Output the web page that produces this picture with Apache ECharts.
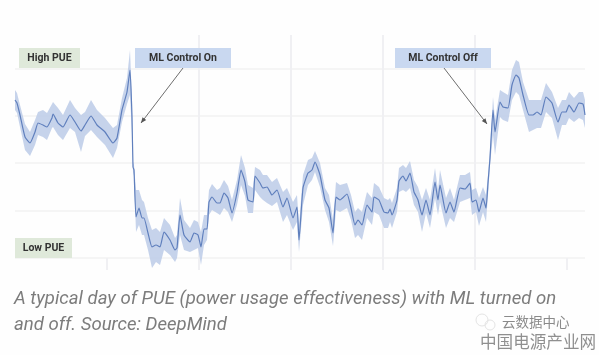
<!DOCTYPE html>
<html>
<head>
<meta charset="utf-8">
<style>
  html, body { margin: 0; padding: 0; background: #fefefe; }
  #chart { width: 599px; height: 355px; }
</style>
<script src="https://cdn.jsdelivr.net/npm/echarts@6/dist/echarts.min.js"></script>
</head>
<body>
<div id="chart"></div>
<script>
// time of day and PUE on a relative scale, the source has no axis numbers
const time = [0,2,5,10,15,20,23,28,32,37,38,43,48,55,60,66,70,76,82,90,98,102,107,112,115,117,118,119,
  121,124,127,129,133,137,141,145,149,155,160,162,165,169,175,179,183,186,189,192,194,197,202,205,209,213,217,222,
  226,230,233,238,240,245,248,252,257,262,268,272,278,282,284,288,293,297,300,305,310,314,318,321,325,332,336,
  340,343,347,352,357,359,364,369,373,375,377,382,384,388,391,395,399,403,407,411,415,420,423,425,431,435,439,445,450,455,457,461,464,468,471,473,475,
  478,480,485,488,493,497,501,504,508,514,518,522,526,531,537,543,547,551,554,559,564,568,570];
const pue = [158,155,143,121,115,126,135,133,131,140,144,135,131,143,136,127,133,142,133,126,115,120,148,166,188,141,91,88,
  41,50,40,40,25,11,13,11,26,18,8,10,43,23,16,25,23,11,29,29,56,61,55,55,65,60,45,65,
  88,76,58,56,82,75,70,71,63,68,51,60,40,51,18,70,85,88,96,83,58,50,25,61,58,64,50,
  33,38,33,53,46,61,58,46,45,49,43,58,77,82,77,85,66,58,43,58,43,76,58,73,45,56,46,70,69,75,56,58,46,60,50,75,100,
  148,126,156,151,150,173,183,180,163,143,143,146,143,161,155,136,146,146,153,146,155,154,143];
const bandLow = [148,145,131,108,102,113,123,121,118,130,131,123,118,130,126,106,122,128,121,113,100,110,136,154,163,123,86,82,
  26,33,23,23,8,-10,-4,-7,8,3,-4,0,23,8,6,8,10,-7,13,18,43,48,45,43,50,46,36,53,
  73,62,45,45,68,61,58,55,52,56,36,43,28,36,6,53,73,78,86,71,48,36,12,48,46,50,38,
  20,23,18,40,33,46,43,30,30,36,30,46,66,68,66,70,53,46,26,45,30,60,43,56,30,40,36,56,58,60,43,46,32,46,36,63,93,
  123,103,141,138,136,158,166,163,148,126,128,130,130,146,140,118,133,133,140,136,140,138,130];
const bandHigh = [168,165,153,134,126,138,146,148,145,154,156,150,143,158,150,143,146,158,148,140,130,133,160,180,208,158,96,93,
  68,68,58,56,40,28,30,26,40,33,20,23,60,38,30,38,36,26,43,43,68,74,68,70,78,72,58,78,
  103,90,73,70,91,88,83,83,76,80,66,70,56,63,33,83,98,100,107,95,70,63,38,76,73,75,63,
  46,50,46,66,60,75,71,60,58,60,55,70,90,93,90,97,78,71,58,70,58,90,68,88,60,70,58,83,83,86,68,70,60,71,63,83,108,
  161,138,168,166,163,188,198,196,176,158,158,158,158,175,166,150,158,158,166,160,166,166,158];

const captionLines = ['A typical day of PUE (power usage effectiveness) with ML turned on', 'and off. Source: DeepMind'];

const gridTicks = [92, 184, 276, 368, 460, 552];
const chart = echarts.init(document.getElementById('chart'));

const toPairs = (vals) => vals.map((v, i) => [time[i], v]);

// label box with text on top
const labelBox = (x, y, w, h, fill, text) => [
  { type: 'rect', z: 10, shape: { x, y, width: w, height: h }, style: { fill } },
  { type: 'text', z: 11, style: { x: x + w / 2, y: y + h / 2, text, align: 'center', verticalAlign: 'middle',
      font: 'bold 10.5px Roboto', fill: '#333' } }
];

// thin arrow with a small head
const arrow = (x1, y1, x2, y2) => {
  const a = Math.atan2(y2 - y1, x2 - x1), s = 6;
  return [
    { type: 'line', z: 9, shape: { x1, y1, x2, y2 }, style: { stroke: '#6e6e6e', lineWidth: 1 } },
    { type: 'polygon', z: 9, shape: { points: [[x2, y2],
        [x2 - s * Math.cos(a - 0.4), y2 - s * Math.sin(a - 0.4)],
        [x2 - s * Math.cos(a + 0.4), y2 - s * Math.sin(a + 0.4)]] }, style: { fill: '#555' } }
  ];
};

// the band is one polygon, high edge forward and low edge back
const renderBand = (params, api) => {
  if (params.dataIndex !== 0) return null;
  const top = bandHigh.map((v, i) => api.coord([time[i], v]));
  const bottom = bandLow.map((v, i) => api.coord([time[i], v])).reverse();
  return { type: 'polygon', shape: { points: top.concat(bottom) }, style: { fill: '#bccbe8', opacity: 0.85 } };
};

chart.setOption({
  animation: false,
  backgroundColor: '#fefefe',
  grid: { left: 15, right: 14, top: 35, bottom: 97 },
  xAxis: {
    type: 'value', min: 0, max: 570, interval: 92,
    axisLine: { show: false },
    axisLabel: { show: false },
    axisTick: { show: true, inside: false, length: 12, customValues: gridTicks, lineStyle: { color: '#f0f0f3', width: 2 } },
    splitLine: { show: true, showMinLine: false, showMaxLine: false, lineStyle: { color: '#f0f0f3', width: 2 } }
  },
  yAxis: {
    type: 'value', min: 0, max: 223, interval: 47.4,
    axisLine: { show: false },
    axisLabel: { show: false },
    axisTick: { show: false },
    splitLine: { show: true, showMaxLine: false, lineStyle: { color: '#f5f5f5', width: 2 } }
  },
  series: [
    { name: 'band', type: 'custom', clip: false, renderItem: renderBand, data: toPairs(bandHigh), encode: { x: 0, y: 1 } },
    { name: 'PUE', type: 'line', data: toPairs(pue), clip: false, showSymbol: false, smooth: 0.15, lineStyle: { color: '#5f7fbd', width: 1.2 } }
  ],
  graphic: [
    ...labelBox(19, 48, 61, 20, '#dfe9da', 'High PUE'),
    ...labelBox(15, 238, 57, 20, '#dfe9da', 'Low PUE'),
    ...labelBox(135, 48, 96, 20, '#c9d8f0', 'ML Control On'),
    ...labelBox(395, 48, 96, 20, '#c9d8f0', 'ML Control Off'),
    ...arrow(183, 68, 141, 123),
    ...arrow(444, 68, 487, 124),
    { type: 'text', style: { x: 14, y: 299, text: captionLines[0], verticalAlign: 'middle', font: 'italic 18.6px Roboto', fill: '#7c7c7c' } },
    { type: 'text', style: { x: 14, y: 325, text: captionLines[1], verticalAlign: 'middle', font: 'italic 18.6px Roboto', fill: '#7c7c7c' } },
    { type: 'circle', shape: { cx: 482, cy: 320, r: 6 }, style: { fill: 'none', stroke: '#e4e4e4', lineWidth: 1 } },
    { type: 'circle', shape: { cx: 490, cy: 325, r: 5 }, style: { fill: 'none', stroke: '#e4e4e4', lineWidth: 1 } },
    { type: 'text', style: { x: 502, y: 322, text: '云数据中心', verticalAlign: 'middle', font: '13.5px "Noto Sans CJK SC"', fill: '#8a8a8a' } },
    { type: 'text', style: { x: 480, y: 342, text: '中国电源产业网', verticalAlign: 'middle', font: '16.6px "Noto Sans CJK SC"', fill: '#8f8f8f' } }
  ]
});
// check the arrays line up
if (new Set([time.length, pue.length, bandLow.length, bandHigh.length]).size !== 1) {
  throw new Error('array lengths ' + [time.length, pue.length, bandLow.length, bandHigh.length]);
}
</script>
</body>
</html>
